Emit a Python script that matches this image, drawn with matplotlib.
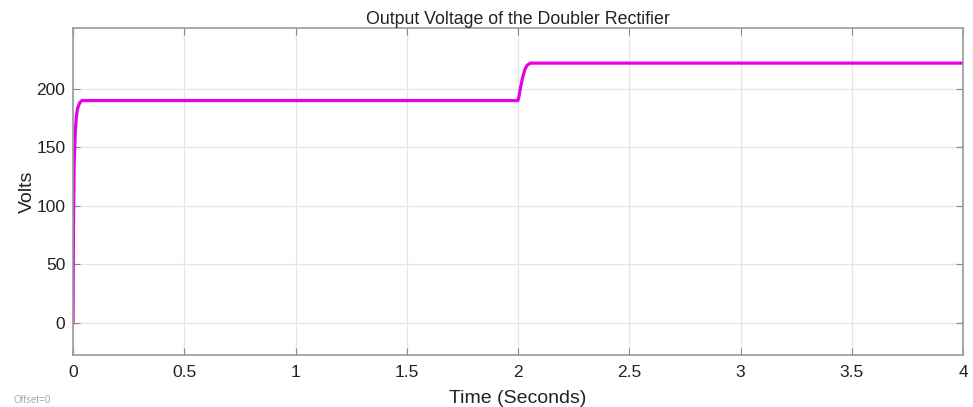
import matplotlib.pyplot as plt

plt.rcParams["font.family"] = ["Liberation Sans", "DejaVu Sans"]

# values
t = [0, 0.002, 0.005, 0.01, 0.015, 0.02, 0.03, 0.04, 0.06, 2.0, 2.005, 2.01, 2.02, 2.03, 2.04, 2.055, 2.07, 4.0]
v = [0, 80, 135, 162, 176, 183, 188, 190, 190, 190, 194, 200, 209, 216, 220, 222, 222, 222]

xticks = [0, 0.5, 1, 1.5, 2, 2.5, 3, 3.5, 4]
xlabels = ["0", "0.5", "1", "1.5", "2", "2.5", "3", "3.5", "4"]
yticks = [0, 50, 100, 150, 200]

fig = plt.figure(figsize=(9.73, 4.07), dpi=100)
ax = fig.add_axes([73/973, 1 - 355/407, 890/973, 327/407])

ax.plot(t, v, color="#e600e6", linewidth=2.3)

ax.set_xlim(0, 4)
ax.set_ylim(-27.4, 252)
ax.set_xticks(xticks)
ax.set_xticklabels(xlabels)
ax.set_yticks(yticks)
ax.tick_params(direction="in", length=5, color="#888888", labelsize=12.5, labelcolor="#222222",
               top=True, right=True, pad=5.5)
ax.tick_params(axis="x", pad=7.5)
ax.grid(color="#e6e6e6", linewidth=0.9)
for s in ax.spines.values():
    s.set_color("#999999")
    s.set_linewidth(1.2)

ax.set_title("Output Voltage of the Doubler Rectifier", fontsize=12.8, color="#222222", pad=3)
ax.set_xlabel("Time (Seconds)", fontsize=14, color="#222222", labelpad=7)
ax.set_ylabel("Volts", fontsize=14, color="#222222", labelpad=0)
fig.text(13/973, 1 - 400/407, "Offset=0", fontsize=7, color="#aaaaaa", va="center")

plt.savefig("out.png", dpi=100)
